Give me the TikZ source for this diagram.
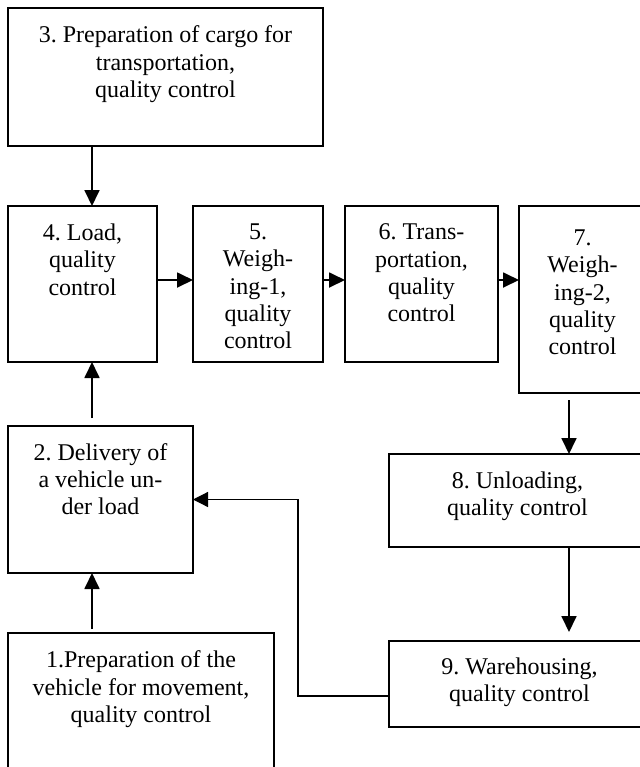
\documentclass[tikz,border=0pt]{standalone}
\usepackage{fontspec}
\setmainfont{Liberation Serif}
\usetikzlibrary{positioning,calc,arrows.meta}
\frenchspacing

\tikzset{
    box/.style={draw, line width=0.65pt, inner sep=0pt, outer sep=0pt},
    txt/.style={inner sep=0pt, align=center, font=\fontsize{12pt}{13.6pt}\selectfont},
    arr/.style={line width=0.9pt, -{Triangle[length=8pt,width=7.5pt]}},
    back/.style={line width=0.6pt, -{Triangle[length=7.5pt,width=7.5pt]}},
}

\begin{document}
\begin{tikzpicture}[x=0.5pt, y=0.5pt]
    \useasboundingbox (0,0) rectangle (640,-767);

    % boxes
    \node[box, minimum width=157.5pt, minimum height=69pt, anchor=north west] (b3) at (8,-8) {};
    \node[box, minimum width=74.5pt, minimum height=78pt, below=30pt of b3.south west, anchor=north west] (b4) {};
    \node[box, minimum width=65pt, minimum height=78pt, right=18pt of b4.north east, anchor=north west] (b5) {};
    \node[box, minimum width=76.5pt, minimum height=78pt, right=11pt of b5.north east, anchor=north west] (b6) {};
    \node[box, minimum width=63.5pt, minimum height=93.5pt, right=10.5pt of b6.north east, anchor=north west] (b7) {};
    \node[box, minimum width=92.5pt, minimum height=73.5pt, below=32pt of b4.south west, anchor=north west] (b2) {};
    \node[box, minimum width=133pt, minimum height=85pt, below=30pt of b2.south west, anchor=north west] (b1) {};
    \node[box, minimum width=128.5pt, minimum height=46.5pt, anchor=north west] (b8) at (389,-454) {};
    \node[box, minimum width=130.5pt, minimum height=43pt, below=47pt of b8.south west, anchor=north west] (b9) {};

    % texts
    \node[txt, below=8.8pt of b3.north] (t3) {3. Preparation of cargo for\\transportation,\\quality control};
    \node[txt, below=8.8pt of b4.north] (t4) {4. Load,\\quality\\control};
    \node[txt, below=8.8pt of b5.north] (t5) {5.\\Weigh-\\ing-1,\\quality\\control};
    \node[txt, below=8.8pt of b6.north] (t6) {6. Trans-\\portation,\\quality\\control};
    \node[txt, below=11.8pt of b7.north] (t7) {7.\\Weigh-\\ing-2,\\quality\\control};
    \node[txt, below=8.5pt of b2.north] (t2) {2. Delivery of\\a vehicle un-\\der load};
    \node[txt, below=8.8pt of b8.north] (t8) {8. Unloading,\\quality control};
    \node[txt, below=8.8pt of b1.north] (t1) {1.Preparation of the\\vehicle for movement,\\quality control};
    \node[txt, below=8.3pt of b9.north] (t9) {9. Warehousing,\\quality control};

    \coordinate (spine) at (92,0);
    \coordinate (rspine) at (569,0);
    \coordinate (row) at (0,-280);
    \coordinate (turn) at (298,-696);

    % connectors
    \draw[arr] (spine |- b3.south) -- (spine |- b4.north);
    \draw[arr] ($(spine |- b2.north)+(0,8)$) -- (spine |- b4.south);
    \draw[arr] ($(spine |- b1.north)+(0,4)$) -- (spine |- b2.south);
    \draw[arr] (b4.east |- row) -- (b5.west |- row);
    \draw[arr] (b5.east |- row) -- (b6.west |- row);
    \draw[arr] (b6.east |- row) -- (b7.west |- row);
    \draw[arr] ($(b7.south -| rspine)+(0,-7)$) -- (b8.north -| rspine);
    \draw[arr] (b8.south -| rspine) -- ($(b9.north -| rspine)+(0,9)$);
    \draw[back] (b9.west |- turn) -- (turn) |- (b2.east);
\end{tikzpicture}
\end{document}
